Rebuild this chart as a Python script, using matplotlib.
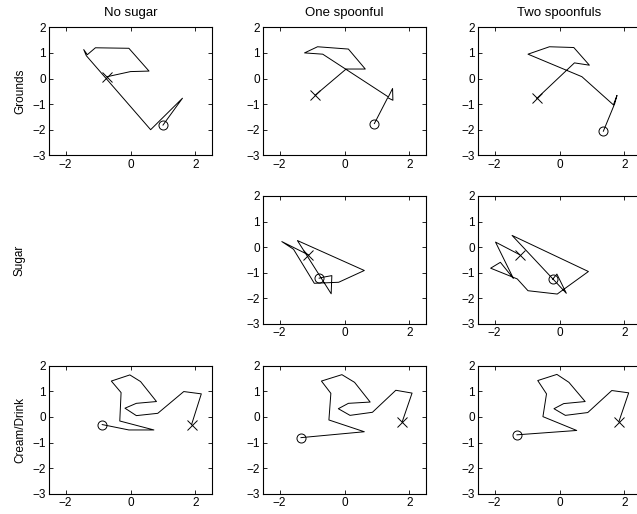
import matplotlib
matplotlib.use("Agg")
import matplotlib.pyplot as plt

plt.rcParams['font.family'] = ['Liberation Sans', 'DejaVu Sans']

col_titles = ['No sugar', 'One spoonful', 'Two spoonfuls']
row_labels = ['Grounds', 'Sugar', 'Cream/Drink']

# trajectories, first point = circle end, last point = cross end
grounds_none_x = [1.00, 1.60, 0.62, -1.36, -1.44, -1.33, -1.08, -0.05, 0.57, 0.00, -0.72]
grounds_none_y = [-1.82, -0.77, -2.00, 0.89, 1.13, 0.93, 1.20, 1.18, 0.29, 0.27, 0.07]

grounds_one_x = [0.92, 1.33, 1.49, 1.48, 1.35, -0.67, -1.23, -0.83, 0.12, 0.64, 0.05, -0.90]
grounds_one_y = [-1.76, -0.75, -0.85, -0.39, -0.72, 0.95, 1.00, 1.24, 1.15, 0.37, 0.37, -0.65]

grounds_two_x = [1.35, 1.70, 1.77, 1.66, 0.69, -0.97, -0.31, 0.44, 0.92, 0.46, -0.70]
grounds_two_y = [-2.06, -0.98, -0.66, -1.03, 0.07, 0.95, 1.24, 1.21, 0.52, 0.61, -0.78]

sugar_one_x = [-0.78, -0.65, -0.39, -0.41, -1.45, 0.61, -0.18, -0.93, -1.57, -1.93, -1.11]
sugar_one_y = [-1.21, -1.17, -1.11, -1.82, 0.26, -0.91, -1.37, -1.41, -0.08, 0.22, -0.30]

sugar_two_x = [-0.21, -0.08, 0.21, -1.46, 0.89, -0.07, -0.97, -1.30, -2.12, -1.82, -1.42, -1.97, -1.23]
sugar_two_y = [-1.25, -1.05, -1.80, 0.46, -0.95, -1.83, -1.70, -1.24, -0.82, -0.59, -1.22, 0.20, -0.29]

cream_none_x = [-0.87, -0.05, 0.72, -0.33, -0.29, -0.59, -0.02, 0.31, 0.80, 0.18, -0.17, 0.18, 0.84, 1.64, 2.18, 1.88]
cream_none_y = [-0.30, -0.51, -0.51, -0.16, 0.95, 1.40, 1.64, 1.38, 0.60, 0.53, 0.34, 0.05, 0.14, 0.99, 0.90, -0.30]

cream_one_x = [-1.34, 0.61, -0.48, -0.42, -0.71, -0.08, 0.31, 0.79, 0.12, -0.19, 0.17, 0.86, 1.58, 2.08, 1.78]
cream_one_y = [-0.81, -0.58, -0.12, 0.92, 1.40, 1.65, 1.35, 0.58, 0.53, 0.32, 0.06, 0.18, 1.04, 0.93, -0.18]

cream_two_x = [-1.31, 0.53, -0.51, -0.40, -0.67, -0.08, 0.29, 0.79, 0.13, -0.17, 0.18, 0.87, 1.61, 2.13, 1.83]
cream_two_y = [-0.70, -0.53, 0.01, 0.90, 1.42, 1.66, 1.35, 0.60, 0.52, 0.32, 0.06, 0.17, 1.03, 0.94, -0.18]

panels = {
    (0, 0): (grounds_none_x, grounds_none_y),
    (0, 1): (grounds_one_x, grounds_one_y),
    (0, 2): (grounds_two_x, grounds_two_y),
    (1, 1): (sugar_one_x, sugar_one_y),
    (1, 2): (sugar_two_x, sugar_two_y),
    (2, 0): (cream_none_x, cream_none_y),
    (2, 1): (cream_one_x, cream_one_y),
    (2, 2): (cream_two_x, cream_two_y),
}

W, H = 637, 514
fig = plt.figure(figsize=(W / 100, H / 100), dpi=100)

col_left = [49.3, 263.3, 478.3]
row_top = [27.3, 196.0, 365.7]
ax_w, ax_h = 162.4, 128.0

for (r, c), (xs, ys) in panels.items():
    ax = fig.add_axes([col_left[c] / W, 1 - (row_top[r] + ax_h) / H, ax_w / W, ax_h / H])
    ax.plot(xs, ys, color='black', lw=0.7)
    ax.plot(xs[0], ys[0], 'o', mfc='none', mec='black', ms=6.5, mew=0.7)
    ax.plot(xs[-1], ys[-1], 'x', color='black', ms=7.5, mew=0.7)
    ax.set_xlim(-2.5, 2.5)
    ax.set_ylim(-3, 2)
    ax.set_xticks([-2, 0, 2])
    ax.set_yticks([-3, -2, -1, 0, 1, 2])
    ax.set_xticklabels(['\u22122', '0', '2'])
    ax.set_yticklabels(['\u22123', '\u22122', '\u22121', '0', '1', '2'])
    ax.tick_params(direction='in', length=3, width=0.6, labelsize=8.5, pad=2.5,
                   top=True, right=True)
    for s in ax.spines.values():
        s.set_linewidth(0.8)
    if r == 0:
        ax.set_title(col_titles[c], fontsize=9.5, pad=8)

for r, lab in enumerate(row_labels):
    yc = row_top[r] + ax_h / 2
    fig.text(20 / W, 1 - yc / H, lab, rotation=90, ha='center', va='center', fontsize=8.5)

fig.savefig('out.png', dpi=100)
